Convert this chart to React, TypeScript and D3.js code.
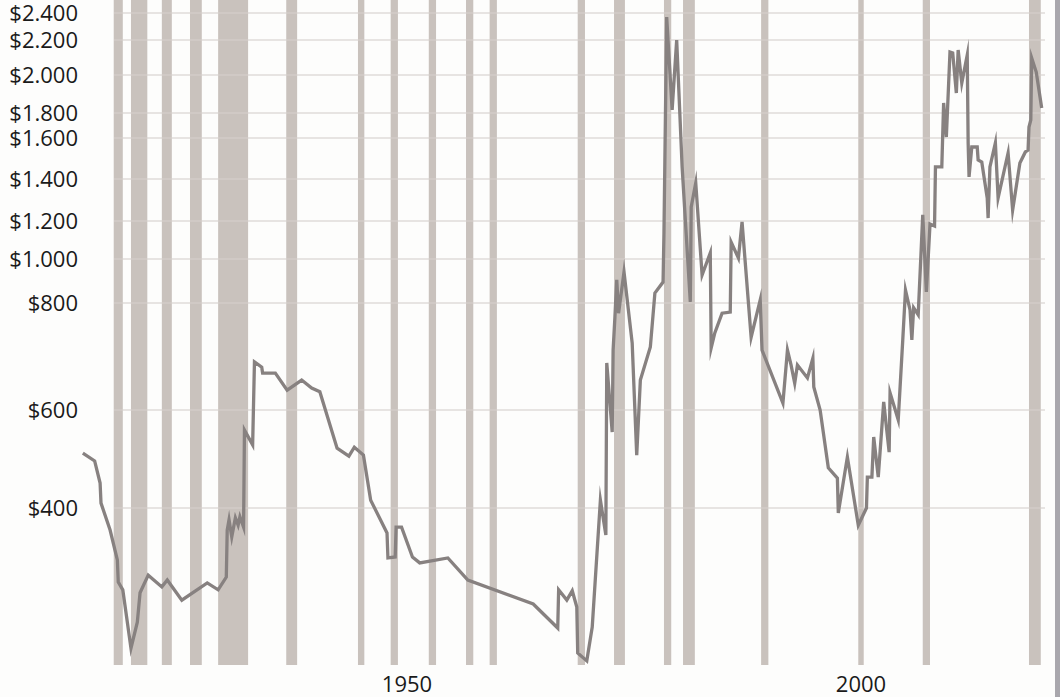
import React from "react";
import * as d3 from "d3";

// Y axis tick values, labels
const yTickValues = [400, 600, 800, 1000, 1200, 1400, 1600, 1800, 2000, 2200, 2400];
const yTickLabels = ["$400", "$600", "$800", "$1.000", "$1.200", "$1.400", "$1.600", "$1.800", "$2.000", "$2.200", "$2.400"];
// X axis tick years
const xTickYears = [1950, 2000];

// Recession periods (start, end)
const recessionStart = [1917.7, 1919.6, 1923.0, 1926.1, 1929.2, 1936.7, 1944.6, 1948.2, 1952.4, 1956.5, 1959.1, 1968.8, 1972.8, 1978.3, 1980.4, 1989.0, 1999.7, 2006.8, 2018.5];
const recessionEnd = [1918.7, 1921.4, 1924.1, 1927.4, 1932.5, 1937.9, 1945.3, 1949.0, 1953.2, 1957.3, 1959.9, 1969.6, 1974.0, 1979.1, 1981.7, 1989.8, 2000.3, 2007.6, 2019.8];

// Gold price series (years, values)
const years = [
  1914.3, 1915.6, 1916.2, 1916.3, 1917.3, 1918.1, 1918.2, 1918.7, 1919.6, 1920.3,
  1920.6, 1921.5, 1923.0, 1923.6, 1925.2, 1928.0, 1929.2, 1930.1, 1930.2, 1930.4,
  1930.7, 1931.1, 1931.4, 1931.6, 1932.0, 1932.1, 1933.0, 1933.2, 1934.0, 1934.1,
  1935.5, 1936.8, 1938.4, 1939.5, 1940.4, 1942.3, 1943.6, 1944.2, 1945.2, 1946.0,
  1947.8, 1947.9, 1948.7, 1948.8, 1949.4, 1950.6, 1951.4, 1954.5, 1956.7, 1963.9,
  1966.6, 1966.7, 1967.6, 1968.2, 1968.7, 1968.8, 1969.8, 1970.4, 1971.3, 1971.9,
  1972.0, 1972.6, 1972.7, 1972.9, 1973.1, 1973.3, 1973.9, 1974.8, 1975.3, 1975.7,
  1976.8, 1977.3, 1978.2, 1978.3, 1978.6, 1979.2, 1979.7, 1980.3, 1981.2, 1981.3,
  1981.8, 1982.5, 1983.4, 1983.5, 1983.9, 1984.7, 1985.6, 1985.7, 1986.5, 1986.9,
  1987.9, 1988.9, 1989.1, 1991.4, 1991.9, 1992.3, 1992.7, 1993.0, 1994.1, 1994.7,
  1994.8, 1995.5, 1996.4, 1997.4, 1997.5, 1998.5, 1999.7, 2000.6, 2000.7, 2001.2,
  2001.4, 2001.9, 2002.5, 2003.1, 2003.2, 2004.1, 2004.6, 2004.9, 2005.4, 2005.6,
  2005.8, 2006.3, 2006.8, 2007.2, 2007.6, 2008.1, 2008.2, 2008.9, 2009.1, 2009.4,
  2009.8, 2010.1, 2010.5, 2010.7, 2011.1, 2011.7, 2011.8, 2011.9, 2012.2, 2012.8,
  2012.9, 2013.3, 2013.9, 2014.0, 2014.2, 2014.8, 2015.1, 2016.2, 2016.7, 2017.5,
  2018.1, 2018.4, 2018.5, 2018.7, 2018.8, 2019.3, 2019.9,
];
const prices = [
  512, 496, 451, 410, 355, 294, 249, 233, 114, 167,
  227, 263, 239, 253, 212, 247, 233, 259, 355, 376,
  341, 380, 365, 382, 361, 559, 529, 690, 680, 669,
  669, 637, 656, 641, 634, 522, 506, 524, 508, 416,
  349, 298, 300, 361, 361, 300, 288, 298, 253, 204,
  155, 233, 212, 231, 198, 104, 88, 157, 416, 345,
  688, 555, 712, 774, 905, 781, 941, 725, 508, 656,
  718, 845, 895, 1137, 2370, 1816, 2200, 1459, 805, 1267,
  1381, 927, 1032, 716, 744, 781, 783, 1089, 1005, 1195,
  736, 814, 712, 613, 712, 684, 650, 684, 660, 697,
  643, 600, 482, 461, 390, 504, 365, 400, 463, 463,
  545, 463, 615, 514, 632, 580, 731, 859, 787, 731,
  791, 778, 1229, 850, 1184, 1174, 1459, 1459, 1853, 1608,
  2131, 2126, 1905, 2143, 1958, 2114, 1576, 1410, 1556, 1556,
  1493, 1483, 1310, 1214, 1459, 1576, 1310, 1527, 1252, 1478,
  1532, 1541, 1688, 1744, 2097, 2017, 1826,
];

const W = 1060;
const H = 697;
const FONT = "'Open Sans', 'Noto Sans', sans-serif";

export default function App() {
  const x = d3.scaleLinear().domain([1950, 2000]).range([407, 861]);
  const y = d3
    .scaleLinear()
    .domain(yTickValues)
    .range([508, 410, 303, 259, 221, 179, 138, 113, 75, 40, 13]);

  const pts = years.map((yr, i) => [yr, prices[i]] as [number, number]);
  const line = d3
    .line<[number, number]>()
    .x((d) => x(d[0]))
    .y((d) => y(d[1]));

  const barTop = 0;
  const barBottom = 665;
  const gridLeft = 114;
  const gridRight = 1045;

  return (
    <svg
      width={W}
      height={H}
      style={{ position: "absolute", left: 0, top: 0, display: "block", background: "#fdfdfc" }}
    >
      <rect x={0} y={0} width={W} height={H} fill="#fdfdfc" />
      {recessionStart.map((s, i) => (
        <rect
          key={"r" + i}
          x={x(s)}
          y={barTop}
          width={x(recessionEnd[i]) - x(s)}
          height={barBottom - barTop}
          fill="#c9c2bd"
        />
      ))}
      {yTickValues.map((v, i) => (
        <line
          key={"g" + i}
          x1={gridLeft}
          x2={gridRight}
          y1={y(v)}
          y2={y(v)}
          stroke="#d6d0cc"
          strokeOpacity={0.55}
          strokeWidth={2}
        />
      ))}
      <path
        d={line(pts) || ""}
        fill="none"
        stroke="#878180"
        strokeWidth={3.3}
        strokeLinejoin="miter"
        strokeMiterlimit={10}
      />
      {yTickValues.map((v, i) => (
        <text
          key={"yl" + i}
          x={78}
          y={y(v) + 8}
          textAnchor="end"
          fontFamily={FONT}
          fontSize={22}
          fill="#1a1a1a"
        >
          {yTickLabels[i]}
        </text>
      ))}
      {xTickYears.map((yr) => (
        <text
          key={"xl" + yr}
          x={x(yr)}
          y={692}
          textAnchor="middle"
          fontFamily={FONT}
          fontSize={22}
          fill="#1a1a1a"
        >
          {String(yr)}
        </text>
      ))}
      <rect x={1055} y={0} width={5} height={H} fill="#a9a7ad" />
    </svg>
  );
}
